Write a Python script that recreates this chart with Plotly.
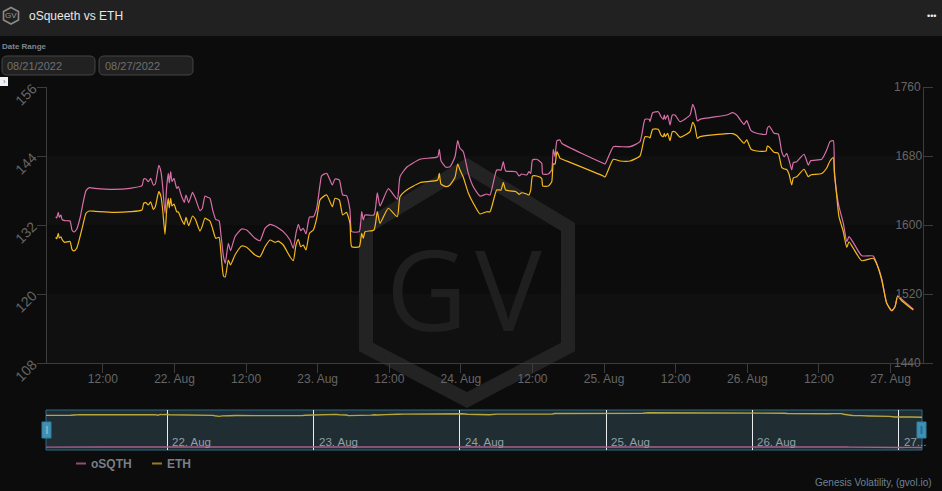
import pandas as pd
import plotly.graph_objects as go

# hours since 2022-08-21 00:00
hours = [4.09,4.26,4.53,4.69,4.98,5.15,5.60,6.49,6.82,7.16,7.61,8.16,8.72,9.17,9.72,10.68,13.74,16.54,18.55,18.84,19.22,19.61,20.01,20.45,20.78,21.37,21.74,22.02,22.41,22.69,22.96,23.13,23.36,23.58,23.92,24.37,24.64,25.21,25.64,25.93,26.38,27.02,27.49,28.27,28.66,29.11,29.50,29.95,30.40,30.91,31.46,31.79,32.21,32.51,33.02,33.39,34.14,35.26,36.10,37.49,38.33,39.17,40.01,40.84,41.40,42.23,43.36,43.91,44.36,44.75,45.15,45.59,46.04,46.62,47.26,47.83,48.38,48.67,49.51,50.45,50.90,51.62,52.19,52.83,53.41,53.70,54.97,55.37,55.64,55.93,57.43,57.99,58.44,59.83,61.34,61.79,62.91,65.14,68.11,68.38,68.66,69.50,70.17,71.01,71.46,71.85,72.40,73.24,74.08,75.20,76.32,76.88,78.00,78.72,79.10,79.51,81.23,81.74,82.19,83.03,83.41,83.70,84.00,84.70,85.54,85.71,86.65,87.22,87.48,87.77,88.10,88.61,88.89,95.86,96.15,97.54,98.66,100.34,102.01,102.85,103.57,103.69,104.14,105.08,105.53,105.92,106.09,106.25,106.65,107.04,107.43,107.88,108.72,110.39,110.85,111.23,111.62,112.07,116.54,117.55,118.22,119.44,119.90,120.62,121.57,123.13,123.35,123.68,124.47,125.19,125.76,126.20,126.60,126.98,127.44,127.71,128.28,129.50,130.22,130.62,132.47,133.30,133.85,134.41,134.58,134.98,135.36,136.09,136.66,137.04,137.76,139.17,141.11,141.68,142.52,143.36,144.20,144.75,145.20,145.87,147.82]
osqth = [133.44,133.22,134.21,133.34,133.74,132.99,132.75,132.70,131.13,130.78,131.25,133.17,136.05,137.97,138.49,138.38,138.21,138.38,138.84,140.00,140.00,139.53,140.12,138.96,139.13,142.38,141.22,138.66,134.09,138.66,140.99,139.30,141.27,139.53,140.12,138.38,138.66,136.92,135.95,137.22,135.88,137.69,136.64,134.49,134.90,137.04,136.82,136.64,134.61,132.99,132.75,130.26,126.49,125.34,128.82,127.53,129.97,131.30,131.13,129.69,129.27,131.43,132.12,131.83,131.48,130.84,129.39,127.95,130.56,132.12,131.01,131.43,130.44,133.39,133.44,134.90,138.96,140.57,140.99,138.96,140.00,139.83,137.22,137.10,134.61,130.84,130.84,134.31,132.87,133.74,133.74,137.57,135.30,138.31,136.47,140.40,142.04,143.43,143.88,145.17,143.18,142.04,142.14,143.88,146.66,145.34,144.75,140.99,138.66,137.04,137.39,137.22,141.57,141.57,143.01,141.39,141.27,140.52,140.87,140.70,141.27,140.99,143.30,143.43,142.73,140.87,140.87,141.57,145.17,143.88,146.66,146.78,146.21,142.73,142.61,145.62,145.62,145.62,146.49,150.38,150.38,149.97,151.53,151.70,150.83,150.38,151.13,150.38,151.13,149.39,151.13,151.13,149.97,151.13,152.99,152.00,150.09,150.38,151.13,151.53,151.13,149.51,150.14,148.40,147.95,147.77,148.82,149.22,147.95,147.83,144.75,143.88,144.47,143.30,141.57,142.84,143.01,144.30,142.43,143.18,143.43,145.04,146.49,146.66,140.99,137.51,135.18,132.30,129.10,129.97,128.92,126.66,126.61,125.34,122.73,118.38,117.10,117.79,119.65,119.08,117.34]
eth = [1585.7,1584.1,1590.4,1584.9,1586.4,1583.4,1579.9,1580.9,1571.8,1569.9,1573.0,1586.4,1602.0,1613.6,1616.2,1615.9,1614.7,1615.4,1617.4,1625.2,1625.9,1623.2,1626.7,1618.2,1621.2,1638.6,1633.0,1617.4,1589.2,1617.4,1631.0,1619.7,1631.0,1622.0,1624.3,1615.4,1615.1,1605.8,1600.6,1608.9,1599.2,1610.4,1606.6,1593.0,1598.8,1608.1,1606.4,1604.6,1595.4,1584.6,1585.7,1567.2,1540.9,1539.7,1559.4,1553.6,1565.2,1575.7,1574.1,1565.2,1563.2,1574.8,1582.6,1579.9,1581.4,1576.8,1563.2,1558.6,1576.8,1583.4,1574.8,1576.8,1571.0,1590.4,1594.2,1607.8,1629.0,1631.3,1634.8,1621.2,1631.0,1629.0,1611.6,1614.7,1602.0,1574.8,1574.8,1590.4,1584.6,1592.2,1594.2,1615.4,1602.0,1619.4,1609.6,1632.8,1640.6,1649.0,1652.2,1659.9,1647.5,1644.4,1646.4,1655.3,1670.7,1663.8,1655.3,1637.1,1625.2,1612.8,1615.4,1615.4,1640.6,1640.6,1649.5,1640.6,1638.6,1635.6,1637.4,1635.9,1634.8,1640.6,1656.8,1656.8,1654.1,1645.2,1645.2,1650.2,1670.7,1670.7,1685.0,1677.3,1676.5,1656.8,1655.7,1676.2,1674.2,1674.2,1680.0,1702.4,1701.7,1700.9,1711.0,1711.0,1704.3,1702.4,1706.3,1702.4,1706.3,1697.7,1708.2,1708.2,1701.7,1708.2,1719.1,1714.0,1700.5,1702.4,1705.9,1705.9,1703.8,1694.7,1698.6,1687.8,1685.8,1685.8,1691.6,1690.4,1684.3,1683.1,1666.9,1664.9,1664.3,1659.1,1646.4,1654.5,1656.0,1664.6,1656.0,1658.0,1659.7,1666.1,1674.2,1678.0,1663.8,1633.6,1609.6,1592.2,1573.9,1580.6,1573.0,1558.6,1561.4,1554.8,1536.2,1509.2,1500.6,1505.3,1517.7,1512.2,1501.4]
left_ticks = [108, 120, 132, 144, 156]
right_ticks = [1440, 1520, 1600, 1680, 1760]
tick_hours = [12, 24, 36, 48, 60, 72, 84, 96, 108, 120, 132, 144]
tick_labels = ["12:00", "22. Aug", "12:00", "23. Aug", "12:00", "24. Aug", "12:00", "25. Aug", "12:00", "26. Aug", "12:00", "27. Aug"]
nav_hours = [24, 48, 72, 96, 120, 144]
nav_labels = ["22. Aug", "23. Aug", "24. Aug", "25. Aug", "26. Aug", "27..."]

BASE = pd.Timestamp("2022-08-21")
def T(h):
    return BASE + pd.to_timedelta(h, unit="h")
times = [T(h) for h in hours]

W, H = 942, 491
PX = lambda v: v / W
PY = lambda v: 1 - v / H
PINK, GOLD = "#d86fa8", "#f6b91c"
AXIS = "#3c3c3c"
TICKTXT = "#666666"
FONT = "Liberation Sans, Arial, sans-serif"

fig = go.Figure()
main_pink = dict(color=PINK, width=1.2, shape="spline", smoothing=0.5)
main_gold = dict(color=GOLD, width=1.2, shape="spline", smoothing=0.5)
fig.add_trace(go.Scatter(x=times, y=osqth, name="oSQTH", mode="lines", line=main_pink, yaxis="y", xaxis="x", showlegend=False))
fig.add_trace(go.Scatter(x=times, y=eth, name="ETH", mode="lines", line=main_gold, yaxis="y2", xaxis="x", showlegend=False))
fig.add_trace(go.Scatter(x=times, y=osqth, name="oSQTH nav", mode="lines", line=dict(color="#a8608c", width=1.4), xaxis="x2", yaxis="y3", showlegend=False))
fig.add_trace(go.Scatter(x=times, y=eth, name="ETH nav", mode="lines", line=dict(color="#b8a63c", width=1.4), xaxis="x2", yaxis="y3", showlegend=False))

def rect(x0, y0, x1, y1, fill, line=None, lw=1, layer="below"):
    return dict(type="rect", xref="paper", yref="paper", x0=PX(x0), x1=PX(x1), y0=PY(y0), y1=PY(y1),
                fillcolor=fill, line=dict(color=line or fill, width=lw if line else 0), layer=layer)

def rrect(x0, y0, x1, y1, r, fill, line):
    def p(x, y):
        return f"{PX(x):.5f},{PY(y):.5f}"
    path = (f"M{p(x0+r,y0)} L{p(x1-r,y0)} Q{p(x1,y0)} {p(x1,y0+r)} L{p(x1,y1-r)} Q{p(x1,y1)} {p(x1-r,y1)} "
            f"L{p(x0+r,y1)} Q{p(x0,y1)} {p(x0,y1-r)} L{p(x0,y0+r)} Q{p(x0,y0)} {p(x0+r,y0)} Z")
    return dict(type="path", xref="paper", yref="paper", path=path, fillcolor=fill, line=dict(color=line, width=1), layer="below")

def poly(points, color, width):
    path = "M" + " L".join(f"{PX(x):.5f},{PY(y):.5f}" for x, y in points) + " Z"
    return dict(type="path", xref="paper", yref="paper", path=path, line=dict(color=color, width=width), layer="below")

shapes = [
    rect(0, 0, W, 36, "#212121"),
    dict(type="rect", xref="paper", yref="y", x0=PX(46.5), x1=PX(922.7), y0=132, y1=144, fillcolor="#101010", line=dict(width=0), layer="below"),
    dict(type="rect", xref="paper", yref="y", x0=PX(46.5), x1=PX(922.7), y0=108, y1=120, fillcolor="#101010", line=dict(width=0), layer="below"),
    poly([(467,166),(568,227),(568,347),(467,400),(366,347),(366,227)], "#232323", 14),
    poly([(11,7.5),(18.5,11.5),(18.5,20),(11,24),(3.5,20),(3.5,11.5)], "#8a8a8a", 1.6),
    rrect(2, 56, 95, 75, 5, "#212121", "#444444"),
    rrect(99, 56, 193, 75, 5, "#212121", "#444444"),
    rect(0, 77, 8, 86, "#f2f2f2"),
    # navigator frame
    rect(46, 410, 922, 450, "#202d33", "#2b6a86", 1),
    rect(42, 422, 51, 438, "#3f90b3", "#2f7ea0", 1, "above"),
    rect(917, 422, 926, 438, "#3f90b3", "#2f7ea0", 1, "above"),
    rect(46, 426, 48, 434, "#6fb0cc", None, 0, "above"),
    rect(920.5, 426, 922.5, 434, "#1f6f92", None, 0, "above"),
    # legend keys
    dict(type="line", xref="paper", yref="paper", x0=PX(76), x1=PX(86), y0=PY(463.5), y1=PY(463.5), line=dict(color="#8f4f72", width=2)),
    dict(type="line", xref="paper", yref="paper", x0=PX(152), x1=PX(162), y0=PY(463.5), y1=PY(463.5), line=dict(color="#9b7a22", width=2)),
]

def note(text, x, y, size, color, anchor="left", bold=False, family=FONT):
    return dict(text=f"<b>{text}</b>" if bold else text, xref="paper", yref="paper", x=PX(x), y=PY(y), xanchor=anchor, yanchor="middle",
                showarrow=False, font=dict(size=size, color=color, family=family))

annotations = [
    note("oSqueeth vs ETH", 27, 15.5, 12, "#e8e8e8"),
    note("GV", 11, 16, 8, "#9a9a9a", "center"),
    note("•••", 931, 16, 9, "#f0f0f0", "center"),
    note("Date Range", 0, 47, 8, "#7e8690", bold=True),
    note("08/21/2022", 5, 66, 11, "#6f6f6f"),
    note("08/27/2022", 103, 66, 11, "#6f6f6f"),
    note("›", 4, 81, 8, "#777777", "center"),
    note("G", 426, 287, 112, "#1f1f1f", "center", family="Open Sans"),
    note("V", 508, 287, 112, "#1f1f1f", "center", family="Open Sans"),
    note("oSQTH", 89, 463.5, 12, "#777f88", bold=True),
    note("ETH", 165, 463.5, 12, "#777f88", bold=True),
    note("Genesis Volatility, (gvol.io)", 934, 482.5, 10, "#6b8296", "right"),
]
for v in (right_ticks[0], right_ticks[-1]):
    annotations.append(dict(text=str(v), xref="paper", yref="y2", x=PX(923), y=v, xanchor="right", yanchor="middle",
                            showarrow=False, font=dict(size=12, color=TICKTXT, family=FONT)))
for h, lab in zip(nav_hours, nav_labels):
    annotations.append(dict(text=lab, xref="x2", yref="paper", x=T(h), y=PY(441.5), xanchor="left", yanchor="middle", xshift=3,
                            showarrow=False, font=dict(size=11.5, color="#8fa0a8", family=FONT)))

fig.update_layout(
    width=W, height=H, margin=dict(l=0, r=0, t=0, b=0),
    paper_bgcolor="#0c0c0c", plot_bgcolor="rgba(0,0,0,0)",
    font=dict(family=FONT, color=TICKTXT),
    shapes=shapes, annotations=annotations, hovermode=False,
    xaxis=dict(domain=[PX(46.5), PX(922.7)], anchor="y", type="date", range=[T(2.55), T(149.39)], automargin=False,
               tickvals=[T(h) for h in tick_hours], ticktext=tick_labels, ticks="outside", ticklen=9, tickcolor=AXIS, ticklabelstandoff=-4,
               tickfont=dict(size=12, color=TICKTXT), showgrid=False, showline=True, linecolor=AXIS, zeroline=False),
    yaxis=dict(domain=[PY(363), PY(87)], range=[108, 156], tickvals=left_ticks, tickangle=-45, ticks="outside", ticklen=9, automargin=False,
               tickcolor=AXIS, tickfont=dict(size=14, color=TICKTXT), ticklabelstandoff=1, showgrid=False, showline=True, linecolor=AXIS, zeroline=False),
    yaxis2=dict(domain=[PY(363), PY(87)], range=[1440, 1760], tickvals=right_ticks, overlaying="y", side="right", anchor="x", automargin=False,
                ticks="outside", ticklen=9, tickcolor=AXIS, ticklabelposition="inside", tickfont=dict(size=12, color=TICKTXT),
                showgrid=False, showline=True, linecolor=AXIS, zeroline=False),
    xaxis2=dict(domain=[PX(46), PX(922)], anchor="y3", type="date", range=[T(hours[0]), T(hours[-1])], automargin=False,
                tickvals=[T(h) for h in nav_hours], showticklabels=False, ticks="", showgrid=True, gridcolor="#e8eef0", gridwidth=1,
                zeroline=False, showline=False),
    yaxis3=dict(domain=[PY(450), PY(410)], range=[0, 1830], anchor="x2", showticklabels=False, ticks="", showgrid=False, zeroline=False, showline=False, automargin=False),
)

fig.write_html("out.html", config={"displayModeBar": False},
               post_script="document.body.style.margin='0';document.body.style.overflow='hidden';document.body.style.background='#0c0c0c';")
